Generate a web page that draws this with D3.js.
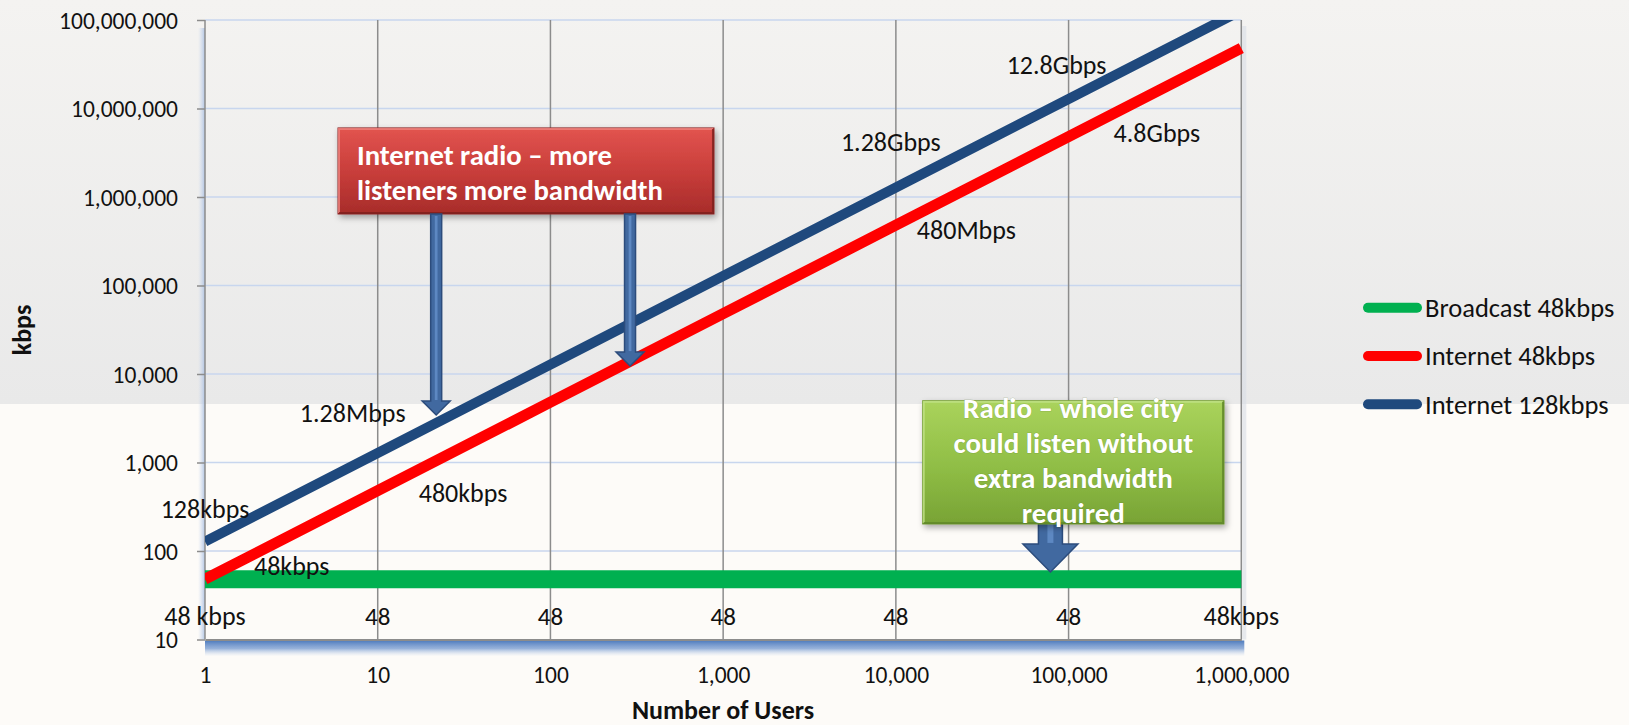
<!DOCTYPE html>
<html><head><meta charset="utf-8">
<script src="https://cdn.jsdelivr.net/npm/d3@7"></script>
<style>
html,body{margin:0;padding:0;background:#fdfbf8;}
svg{display:block;font-family:Carlito, Lato, sans-serif;}
</style></head><body>
<svg id="chart" width="1629" height="725"></svg>
<script>
// ---------- data ----------
const users = [1, 10, 100, 1000, 10000, 100000, 1000000];
const broadcast48 = [48, 48, 48, 48, 48, 48, 48];
const internet48 = [48, 480, 4800, 48000, 480000, 4800000, 48000000];
const internet128 = [128, 1280, 12800, 128000, 1280000, 12800000, 128000000];
const seriesNames = ["Broadcast 48kbps", "Internet 48kbps", "Internet 128kbps"];
const broadcastLabels = ["48 kbps", "48", "48", "48", "48", "48", "48kbps"];
const internet48Labels = ["48kbps", "480kbps", "", "", "480Mbps", "4.8Gbps", ""];
const internet128Labels = ["128kbps", "1.28Mbps", "", "", "1.28Gbps", "12.8Gbps", ""];
const yTickValues = [10, 100, 1000, 10000, 100000, 1000000, 10000000, 100000000];
const xTickValues = [1, 10, 100, 1000, 10000, 100000, 1000000];
const yTitle = "kbps";
const xTitle = "Number of Users";
const redNote = ["Internet radio \u2013 more", "listeners more bandwidth"];
const greenNote = ["Radio \u2013 whole city", "could listen without", "extra bandwidth", "required"];
// annotation anchors in data space [users, kbps]
const redBox = [[5.89, 6.03e6], [885, 6.43e5]];
const redArrowTips = [[21.8, 3440], [289, 12300]];
const greenBox = [[14300, 4990], [794000, 202]];
const greenArrowTip = [78500, 58];

// ---------- styles / layout ----------
const colors = ["#00b050", "#ff0000", "#1f497d"];
const widths = [18, 11, 10];
const TICKFONT = 23.5;
const LABELFONT = 26;
const NUMFONT = 25;
const plot = {left: 205, right: 1241.3, top: 20, bottom: 639.5};
// label offsets [dx, dy, anchor]
const offG = users.map(() => [0, 37, "middle"]);
const offR = [[49, -13, "start"], [41, 2, "start"], null, null, [21, 5, "start"], [45, -4, "start"], null];
const offB = [[0, -33, "middle"], [-25, -40, "middle"], null, null, [-5, -46, "middle"], [-12, -34, "middle"], null];

const svg = d3.select("#chart");
const defs = svg.append("defs");

const bg = defs.append("linearGradient").attr("id", "bg").attr("x1", 0).attr("y1", 0).attr("x2", 0).attr("y2", 1);
bg.append("stop").attr("offset", "0%").attr("stop-color", "#f4f3f1");
bg.append("stop").attr("offset", "100%").attr("stop-color", "#e9e9e9");

const rg = defs.append("linearGradient").attr("id", "redg").attr("x1", 0).attr("y1", 0).attr("x2", 0).attr("y2", 1);
rg.append("stop").attr("offset", "0%").attr("stop-color", "#e2544f");
rg.append("stop").attr("offset", "55%").attr("stop-color", "#c63c39");
rg.append("stop").attr("offset", "100%").attr("stop-color", "#a72c2a");

const gg = defs.append("linearGradient").attr("id", "greeng").attr("x1", 0).attr("y1", 0).attr("x2", 0).attr("y2", 1);
gg.append("stop").attr("offset", "0%").attr("stop-color", "#aad35c");
gg.append("stop").attr("offset", "55%").attr("stop-color", "#8fbd45");
gg.append("stop").attr("offset", "100%").attr("stop-color", "#78a335");

const sh = defs.append("linearGradient").attr("id", "axshadow").attr("x1", 0).attr("y1", 0).attr("x2", 0).attr("y2", 1);
sh.append("stop").attr("offset", "0%").attr("stop-color", "#4e7bbd").attr("stop-opacity", 1);
sh.append("stop").attr("offset", "50%").attr("stop-color", "#7d9fd2").attr("stop-opacity", 0.8);
sh.append("stop").attr("offset", "100%").attr("stop-color", "#c9d7ee").attr("stop-opacity", 0);

const lsh = defs.append("linearGradient").attr("id", "leftshadow").attr("x1", 1).attr("y1", 0).attr("x2", 0).attr("y2", 0);
lsh.append("stop").attr("offset", "0%").attr("stop-color", "#a9bfe2").attr("stop-opacity", 0.9);
lsh.append("stop").attr("offset", "100%").attr("stop-color", "#c9d7ee").attr("stop-opacity", 0);

const ds = defs.append("filter").attr("id", "drop").attr("x", "-10%").attr("y", "-20%").attr("width", "130%").attr("height", "160%");
ds.append("feDropShadow").attr("dx", 2).attr("dy", 3).attr("stdDeviation", 3).attr("flood-color", "#000").attr("flood-opacity", 0.35);

defs.append("clipPath").attr("id", "clip").append("rect")
  .attr("x", plot.left).attr("y", plot.top).attr("width", plot.right - plot.left + 4).attr("height", plot.bottom - plot.top + 2);

// background
svg.append("rect").attr("x", 0).attr("y", 0).attr("width", 1629).attr("height", 404).attr("fill", "url(#bg)");
svg.append("rect").attr("x", 0).attr("y", 404).attr("width", 1629).attr("height", 321).attr("fill", "#fdfbf8");

const x = d3.scaleLog().domain([1, 1e6]).range([plot.left, plot.right]);
const y = d3.scaleLog().domain([10, 1e8]).range([plot.bottom, plot.top]);

// shadows
svg.append("rect").attr("x", plot.left - 7).attr("y", plot.top + 8).attr("width", 7).attr("height", plot.bottom - plot.top - 8).attr("fill", "url(#leftshadow)");
svg.append("rect").attr("x", plot.left).attr("y", plot.bottom + 1).attr("width", plot.right - plot.left + 3).attr("height", 16).attr("fill", "url(#axshadow)");
svg.append("rect").attr("x", plot.right + 1).attr("y", plot.top + 6).attr("width", 4).attr("height", plot.bottom - plot.top - 6).attr("fill", "#d8dde6").attr("opacity", 0.6);

// horizontal gridlines
svg.append("g").selectAll("line").data(yTickValues.filter(v => v > 10)).join("line")
  .attr("x1", plot.left).attr("x2", plot.right).attr("y1", d => y(d)).attr("y2", d => y(d))
  .attr("stroke", "#c8d6ee").attr("stroke-width", 1.5);
// vertical gridlines
svg.append("g").selectAll("line").data(xTickValues).join("line")
  .attr("x1", d => x(d)).attr("x2", d => x(d)).attr("y1", plot.top).attr("y2", plot.bottom)
  .attr("stroke", "#8c8c8c").attr("stroke-width", 1.5);

// y axis
const yAxis = svg.append("g").attr("transform", `translate(${plot.left},0)`)
  .call(d3.axisLeft(y).tickValues(yTickValues).tickFormat(d3.format(",")).tickSize(8).tickPadding(19));
yAxis.select(".domain").remove();
yAxis.selectAll(".tick line").attr("stroke", "#8c8c8c").attr("stroke-width", 1.5);
yAxis.selectAll(".tick text").attr("font-size", TICKFONT).attr("font-family", "Carlito, Lato, sans-serif").attr("fill", "#111").attr("dy", "0.35em");

// x axis
const xAxis = svg.append("g").attr("transform", `translate(0,${plot.bottom})`)
  .call(d3.axisBottom(x).tickValues(xTickValues).tickFormat(d3.format(",")).tickSize(0).tickPadding(0));
xAxis.select(".domain").attr("stroke", "#8c8c8c").attr("stroke-width", 2);
xAxis.selectAll(".tick text").attr("font-size", TICKFONT).attr("font-family", "Carlito, Lato, sans-serif").attr("fill", "#111")
  .attr("y", 35.5).attr("dy", "0.35em");

// lines
const seriesValues = [broadcast48, internet48, internet128];
const seriesLabels = [broadcastLabels, internet48Labels, internet128Labels];
const seriesOffsets = [offG, offR, offB];
const line = d3.line().x(d => x(d[0])).y(d => y(d[1]));
const lg = svg.append("g").attr("clip-path", "url(#clip)");
seriesValues.forEach((vals, i) => {
  lg.append("path").datum(users.map((u, j) => [u, vals[j]]))
    .attr("d", line).attr("fill", "none").attr("stroke", colors[i]).attr("stroke-width", widths[i]);
});

// arrows helper
function arrow(g, cx, y0, tipY, sw, hw, hl) {
  const p = d3.path();
  p.moveTo(cx - sw / 2, y0); p.lineTo(cx + sw / 2, y0); p.lineTo(cx + sw / 2, tipY - hl);
  p.lineTo(cx + hw / 2, tipY - hl); p.lineTo(cx, tipY); p.lineTo(cx - hw / 2, tipY - hl);
  p.lineTo(cx - sw / 2, tipY - hl); p.closePath();
  g.append("path").attr("d", p.toString()).attr("fill", "#4169a0").attr("stroke", "#2c4c7c").attr("stroke-width", 1.5);
  g.append("line").attr("x1", cx).attr("x2", cx).attr("y1", y0 + 2).attr("y2", tipY - hl - 1)
    .attr("stroke", "#5d88c2").attr("stroke-width", Math.max(1.5, sw * 0.25));
}

// green callout (arrow behind box)
const gb = {x0: x(greenBox[0][0]), y0: y(greenBox[0][1]), x1: x(greenBox[1][0]), y1: y(greenBox[1][1])};
const ga = svg.append("g");
arrow(ga, x(greenArrowTip[0]), gb.y1 - 14, y(greenArrowTip[1]), 24, 55, 28);
const gbox = svg.append("g").attr("filter", "url(#drop)");
gbox.append("rect").attr("x", gb.x0).attr("y", gb.y0).attr("width", gb.x1 - gb.x0).attr("height", gb.y1 - gb.y0)
  .attr("fill", "url(#greeng)").attr("stroke", "#6a922d").attr("stroke-width", 1);
svg.append("path").attr("d", `M${gb.x0 + 1},${gb.y1 - 1}L${gb.x0 + 1},${gb.y0 + 1}L${gb.x1 - 1},${gb.y0 + 1}`)
  .attr("fill", "none").attr("stroke", "#c3e38a").attr("stroke-width", 2).attr("opacity", 0.8);
svg.append("path").attr("d", `M${gb.x0 + 1},${gb.y1 - 1}L${gb.x1 - 1},${gb.y1 - 1}L${gb.x1 - 1},${gb.y0 + 1}`)
  .attr("fill", "none").attr("stroke", "#5f8728").attr("stroke-width", 2).attr("opacity", 0.8);
const gcx = (gb.x0 + gb.x1) / 2;
svg.append("g").selectAll("text").data(greenNote).join("text")
  .attr("x", gcx).attr("y", (d, i) => gb.y0 + 17 + i * 35)
  .attr("text-anchor", "middle").attr("font-weight", "bold").attr("font-size", 29)
  .attr("fill", "#fff").style("paint-order", "stroke").attr("stroke", "rgba(80,110,40,0.25)").attr("stroke-width", 1)
  .text(d => d);

// data labels
seriesLabels.forEach((labs, i) => {
  svg.append("g").selectAll("text").data(users.map((u, j) => ({u, v: seriesValues[i][j], t: labs[j], o: seriesOffsets[i][j]})).filter(d => d.t))
    .join("text")
    .attr("x", d => x(d.u) + d.o[0]).attr("y", d => y(d.v) + d.o[1]).attr("dy", "0.35em")
    .attr("text-anchor", d => d.o[2]).attr("font-size", d => /[a-z]/.test(d.t) ? LABELFONT : NUMFONT).attr("fill", "#111")
    .text(d => d.t);
});

// red callout
const rb = {x0: x(redBox[0][0]), y0: y(redBox[0][1]), x1: x(redBox[1][0]), y1: y(redBox[1][1])};
const rbox = svg.append("g").attr("filter", "url(#drop)");
rbox.append("rect").attr("x", rb.x0).attr("y", rb.y0).attr("width", rb.x1 - rb.x0).attr("height", rb.y1 - rb.y0)
  .attr("fill", "url(#redg)").attr("stroke", "#8c2624").attr("stroke-width", 1);
svg.append("path").attr("d", `M${rb.x0 + 1},${rb.y1 - 1}L${rb.x0 + 1},${rb.y0 + 1}L${rb.x1 - 1},${rb.y0 + 1}`)
  .attr("fill", "none").attr("stroke", "#ee8580").attr("stroke-width", 2).attr("opacity", 0.8);
svg.append("path").attr("d", `M${rb.x0 + 1},${rb.y1 - 1}L${rb.x1 - 1},${rb.y1 - 1}L${rb.x1 - 1},${rb.y0 + 1}`)
  .attr("fill", "none").attr("stroke", "#7d1f1d").attr("stroke-width", 2).attr("opacity", 0.8);
svg.append("g").selectAll("text").data(redNote).join("text")
  .attr("x", rb.x0 + 19).attr("y", (d, i) => rb.y0 + 37 + i * 35)
  .attr("font-weight", "bold").attr("font-size", 28.7).attr("fill", "#fff")
  .text(d => d);
const ra = svg.append("g");
redArrowTips.forEach(t => arrow(ra, x(t[0]), rb.y1, y(t[1]), 11, 28, 14));

// legend
const leg = svg.append("g");
seriesNames.forEach((n, i) => {
  const ly = 307.7 + i * 48.3;
  leg.append("line").attr("x1", 1368).attr("x2", 1417).attr("y1", ly).attr("y2", ly)
    .attr("stroke", colors[i]).attr("stroke-width", 10).attr("stroke-linecap", "round");
  leg.append("text").attr("x", 1425).attr("y", ly).attr("dy", "0.35em").attr("font-size", 26.5).attr("fill", "#111").text(n);
});

// axis titles
svg.append("text").attr("transform", "translate(22,330) rotate(-90)").attr("text-anchor", "middle").attr("dy", "0.35em")
  .attr("font-weight", "bold").attr("font-size", 26).attr("fill", "#111").text(yTitle);
svg.append("text").attr("x", 723).attr("y", 719).attr("text-anchor", "middle")
  .attr("font-weight", "bold").attr("font-size", 26).attr("fill", "#111").text(xTitle);
</script>
</body></html>
